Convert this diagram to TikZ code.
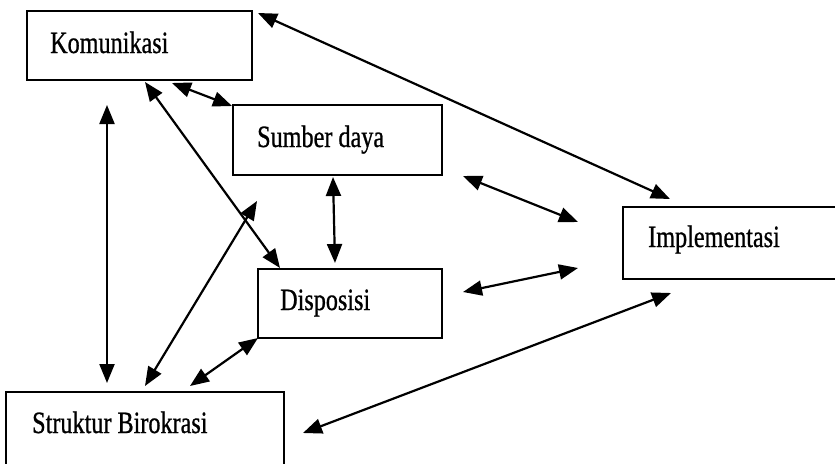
\documentclass[tikz,border=0pt]{standalone}
\usepackage{fontspec}
\setmainfont[FakeStretch=0.78,FakeBold=0.8]{Liberation Serif}
\usetikzlibrary{arrows.meta}
\begin{document}
\begin{tikzpicture}[x=1pt,y=-1pt,
  box/.style={draw=black,line width=2.2pt,rectangle,inner sep=0pt},
  txt/.style={anchor=base west,inner sep=0pt,font=\fontsize{31}{36}\selectfont},
  link/.style={line width=2.2pt,{Triangle[length=19pt,width=15pt]}-{Triangle[length=19pt,width=15pt]}}]
\useasboundingbox (0,0) rectangle (835,463);
\node[box,minimum width=225pt,minimum height=69pt] (kom) at (139.5,45.5) {};
\node[box,minimum width=209pt,minimum height=70pt] (sum) at (337.5,140) {};
\node[box,minimum width=184pt,minimum height=69pt] (dis) at (350,303.5) {};
\node[box,draw=none,minimum width=211pt,minimum height=70pt] (imp) at (729.5,243) {};
\draw[line width=2.2pt] (imp.north east) -- (imp.north west) -- (imp.south west) -- (imp.south east);
\node[box,draw=none,minimum width=276pt,minimum height=70pt] (str) at (145,428) {};
\draw[line width=2.2pt] (str.south west) -- (str.north west) -- (str.north east) -- (str.south east);
\node[txt] (tkom) at (50,53) {Komunikasi};
\node[txt] (tsum) at (257,147) {Sumber daya};
\node[txt] (tdis) at (280,310) {Disposisi};
\node[txt] (timp) at (648,247) {Implementasi};
\node[txt] (tstr) at (32,433) {Struktur Birokrasi};
\coordinate (a1s) at (258,13);  \coordinate (a1e) at (670,199);
\coordinate (a2s) at (172,83);  \coordinate (a2e) at (232,106);
\coordinate (a3s) at (145,82);  \coordinate (a3e) at (280,268);
\coordinate (a4s) at (107,105); \coordinate (a4e) at (107,383);
\coordinate (a5s) at (145,386); \coordinate (a5e) at (257,201);
\coordinate (a6s) at (333,177); \coordinate (a6e) at (335,263);
\coordinate (a7s) at (258,338); \coordinate (a7e) at (190,386);
\coordinate (a8s) at (463,176); \coordinate (a8e) at (578,222);
\coordinate (a9s) at (463,292); \coordinate (a9e) at (578,268);
\coordinate (a10s) at (303,433); \coordinate (a10e) at (671,293);
\draw[link] (a1s) -- (a1e);
\draw[link] (a2s) -- (a2e);
\draw[link] (a3s) -- (a3e);
\draw[link] (a4s) -- (a4e);
\draw[link] (a5s) -- (a5e);
\draw[link] (a6s) -- (a6e);
\draw[link] (a7s) -- (a7e);
\draw[link] (a8s) -- (a8e);
\draw[link] (a9s) -- (a9e);
\draw[link] (a10s) -- (a10e);
\end{tikzpicture}
\end{document}
